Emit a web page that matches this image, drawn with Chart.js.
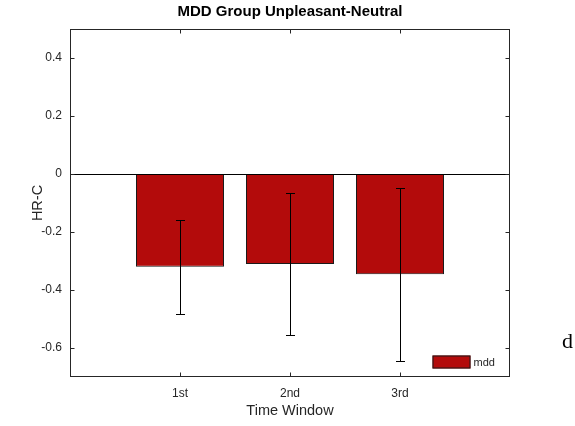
<!DOCTYPE html>
<html>
<head>
<meta charset="utf-8">
<script src="https://cdn.jsdelivr.net/npm/chart.js@4.4.1/dist/chart.umd.min.js"></script>
<style>
  html, body { margin: 0; padding: 0; background: #fff; }
  #wrap { position: relative; width: 575px; height: 426px; }
  #side-note { position: absolute; left: 562px; top: 328px; font-family: "Liberation Serif", "Times New Roman", serif; font-size: 22px; color: #000; }
</style>
</head>
<body>
<div id="wrap">
  <canvas id="c" width="575" height="426"></canvas>
  <div id="side-note">d</div>
</div>
<script>
// Time windows and the group means / error half-widths
const windows = ['1st', '2nd', '3rd'];
const windowPos = [1, 2, 3];
const mddMean = [-0.320, -0.310, -0.346];
const mddErr = [0.162, 0.245, 0.298];
const yTicks = [-0.6, -0.4, -0.2, 0, 0.2, 0.4];

const BAR_RED = '#b30b0b';
const AXIS_GRAY = '#262626';
const FONT = '"Liberation Sans", Arial, Helvetica, sans-serif';

// Box, inward ticks, zero baseline, error bars and legend
const matlabAxes = {
  id: 'matlabAxes',
  afterDatasetsDraw(chart) {
    const { ctx, chartArea: a, scales: { x, y } } = chart;
    const L = Math.round(a.left) + 0.5, R = Math.round(a.right) - 0.5;
    const T = Math.round(a.top) + 0.5, B = Math.round(a.bottom) - 0.5;
    ctx.save();

    // zero baseline
    const y0 = Math.round(y.getPixelForValue(0)) + 0.5;
    ctx.strokeStyle = '#000';
    ctx.lineWidth = 1;
    ctx.beginPath();
    ctx.moveTo(L, y0); ctx.lineTo(R, y0);
    ctx.stroke();

    // error bars
    ctx.strokeStyle = '#000';
    mddMean.forEach((m, i) => {
      const px = Math.round(x.getPixelForValue(windowPos[i])) + 0.5;
      const yt = Math.round(y.getPixelForValue(m + mddErr[i])) + 0.5;
      const yb = Math.round(y.getPixelForValue(m - mddErr[i])) + 0.5;
      ctx.beginPath();
      ctx.moveTo(px, yt); ctx.lineTo(px, yb);
      ctx.moveTo(px - 4.5, yt); ctx.lineTo(px + 4.5, yt);
      ctx.moveTo(px - 4.5, yb); ctx.lineTo(px + 4.5, yb);
      ctx.stroke();
    });

    // axes box
    ctx.strokeStyle = AXIS_GRAY;
    ctx.strokeRect(L, T, R - L, B - T);

    // inward ticks
    const tl = 4;
    ctx.beginPath();
    yTicks.forEach(v => {
      const py = Math.round(y.getPixelForValue(v)) + 0.5;
      ctx.moveTo(L, py); ctx.lineTo(L + tl, py);
      ctx.moveTo(R, py); ctx.lineTo(R - tl, py);
    });
    windowPos.forEach(v => {
      const px = Math.round(x.getPixelForValue(v)) + 0.5;
      ctx.moveTo(px, B); ctx.lineTo(px, B - tl);
      ctx.moveTo(px, T); ctx.lineTo(px, T + tl);
    });
    ctx.stroke();

    // legend
    const ds = chart.data.datasets[0];
    const bx = R - 77, by = B - 21;
    ctx.fillStyle = BAR_RED;
    ctx.fillRect(bx, by, 38, 13);
    ctx.strokeStyle = '#1a1a1a';
    ctx.strokeRect(bx + 0.5, by + 0.5, 37, 12);
    ctx.fillStyle = AXIS_GRAY;
    ctx.font = '11px ' + FONT;
    ctx.textBaseline = 'middle';
    ctx.textAlign = 'left';
    ctx.fillText(ds.label, bx + 41, by + 7);

    ctx.restore();
  }
};

new Chart(document.getElementById('c'), {
  type: 'bar',
  data: {
    datasets: [{
      label: 'mdd',
      data: windowPos.map((p, i) => ({ x: p, y: mddMean[i] })),
      backgroundColor: BAR_RED,
      borderColor: '#1a1a1a',
      borderWidth: 1,
      borderSkipped: false,
      barPercentage: 0.8,
      categoryPercentage: 1.0
    }]
  },
  options: {
    responsive: false,
    animation: false,
    layout: { padding: { left: 0, right: 65, top: 0, bottom: 0 } },
    plugins: {
      legend: { display: false },
      tooltip: { enabled: false },
      title: {
        display: true,
        text: 'MDD Group Unpleasant-Neutral',
        fullSize: false,
        color: '#000',
        font: { family: FONT, size: 15, weight: 'bold' },
        padding: { top: 3, bottom: 8 }
      }
    },
    scales: {
      x: {
        type: 'linear',
        min: 0,
        max: 4,
        offset: false,
        grid: { display: false, drawTicks: false },
        border: { display: false },
        afterBuildTicks(scale) { scale.ticks = windowPos.map(v => ({ value: v })); },
        afterFit(scale) { scale.height = 49; },
        ticks: {
          padding: 9,
          color: AXIS_GRAY,
          font: { family: FONT, size: 12 },
          callback: (v) => windows[windowPos.indexOf(v)] ?? ''
        },
        title: {
          display: true,
          text: 'Time Window',
          color: AXIS_GRAY,
          font: { family: FONT, size: 14.5 },
          padding: { top: 0, bottom: 6 }
        }
      },
      y: {
        min: -0.7,
        max: 0.5,
        grid: { display: false, drawTicks: false },
        border: { display: false },
        afterBuildTicks(scale) { scale.ticks = yTicks.map(v => ({ value: v })); },
        afterFit(scale) { scale.width = 70; },
        ticks: {
          padding: 8,
          color: AXIS_GRAY,
          font: { family: FONT, size: 12 },
          callback: (v) => String(Math.round(v * 10) / 10)
        },
        title: {
          display: true,
          text: 'HR-C',
          color: AXIS_GRAY,
          font: { family: FONT, size: 14.5 },
          padding: { top: 29, bottom: 0 }
        }
      }
    }
  },
  plugins: [matlabAxes]
});
</script>
</body>
</html>
